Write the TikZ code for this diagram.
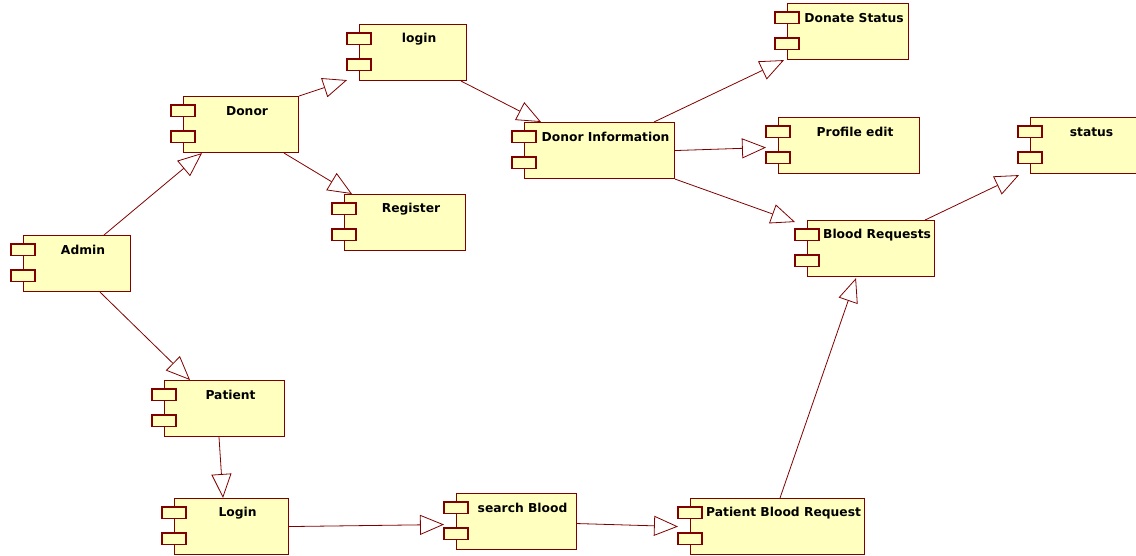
\documentclass[tikz,border=0pt]{standalone}
\usepackage{fontspec}
\setmainfont{DejaVu Sans}
\usetikzlibrary{arrows.meta,calc}
\definecolor{umlred}{RGB}{128,0,0}
\definecolor{umlfill}{RGB}{255,255,192}
\tikzset{
  comp/.style={draw=umlred, fill=umlfill, line width=1.1pt, rectangle, inner sep=0pt, minimum height=56pt, anchor=north west},
  tabbox/.style={draw=umlred, fill=umlfill, line width=1.1pt},
  lbl/.style={font=\fontsize{12.3}{14}\selectfont\bfseries, inner sep=0pt, text=black},
  real/.style={draw=umlred, line width=0.8pt, -{Triangle[open, length=24pt, width=20pt]}, line join=miter},
}
% name, left, top, width, text
\newcommand\umlcomp[5]{%
  \node[comp, minimum width=#4pt] (#1) at (#2,#3) {};
  \draw[tabbox] ([xshift=-12pt,yshift=-9pt]#1.north west) rectangle ++(24pt,-11.5pt);
  \draw[tabbox] ([xshift=-12pt,yshift=-35pt]#1.north west) rectangle ++(24pt,-11.5pt);
  \node[lbl] (#1-t) at ($([xshift=12pt]#1.north west)!0.5!(#1.north east)+(0,-15pt)$) {#5};
}
\begin{document}
\begin{tikzpicture}[x=1pt,y=-1pt]
\useasboundingbox (0,0) rectangle (1136,556);
\umlcomp{admin}{23}{235}{107}{Admin}
\umlcomp{donor}{183}{96}{115}{Donor}
\umlcomp{login}{359}{24}{107}{login}
\umlcomp{register}{344}{194}{121}{Register}
\umlcomp{dinfo}{524}{122}{150}{Donor Information}
\umlcomp{donate}{787}{3}{121}{Donate Status}
\umlcomp{profile}{778}{117}{141}{Profile edit}
\umlcomp{status}{1030}{117}{110}{status}
\umlcomp{breq}{807}{220}{127}{Blood Requests}
\umlcomp{patient}{164}{380}{120}{Patient}
\umlcomp{plogin}{174}{498}{114}{Login}
\umlcomp{search}{456}{493}{120}{search Blood}
\umlcomp{pbr}{690}{498}{174}{Patient Blood Request}

\draw[real] ([xshift=81pt]admin.north west) -- ([xshift=19pt]donor.south west);
\draw[real] ([xshift=77pt]admin.south west) -- ([xshift=26pt]patient.north west);
\draw[real] (donor.north east) -- ([xshift=-12pt,yshift=1pt]login.south west);
\draw[real] ([xshift=-15pt]donor.south east) -- ([xshift=8pt]register.north west);
\draw[real] ([xshift=-6pt]login.south east) -- ([xshift=17pt]dinfo.north west);
\draw[real] ([xshift=130pt]dinfo.north west) -- ([xshift=-3pt]donate.south west);
\draw[real] (dinfo.east) -- ([xshift=-12pt,yshift=-2pt]profile.west);
\draw[real] (dinfo.south east) -- ([xshift=-12pt,yshift=-2pt]breq.north west);
\draw[real] ([xshift=-10pt]breq.north east) -- ([xshift=-11pt,yshift=-1pt]status.south west);
\draw[real] ([xshift=55pt]patient.south west) -- ([xshift=49pt]plogin.north west);
\draw[real] (plogin.east) -- ([xshift=-12pt,yshift=-3pt]search.west);
\draw[real] ([yshift=-2pt]search.east) -- ([xshift=-12pt]pbr.west);
\draw[real] ([xshift=90pt]pbr.north west) -- ([xshift=49pt,yshift=-1pt]breq.south west);
\end{tikzpicture}
\end{document}
